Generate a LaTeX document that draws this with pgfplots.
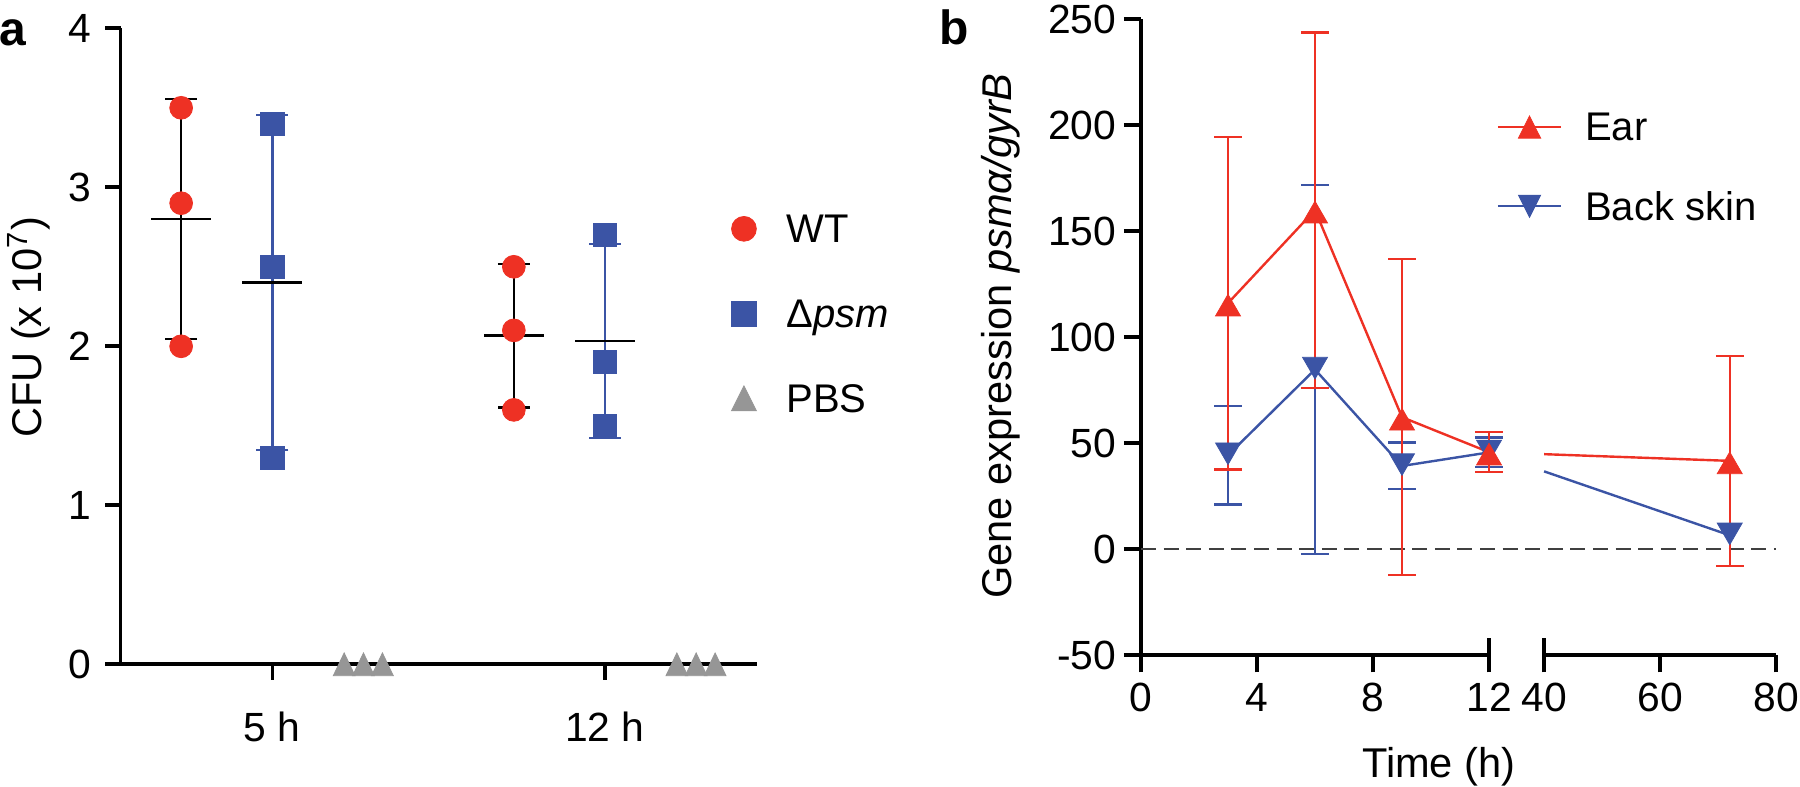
\documentclass[border=0pt]{standalone}
\usepackage{fontspec}
\setmainfont{Liberation Sans}
\usepackage{pgfplots}
\pgfplotsset{compat=1.18}
\usepackage{pgfplotstable}
\definecolor{ared}{RGB}{238,49,36}
\definecolor{ablue}{RGB}{59,84,165}
\definecolor{agray}{RGB}{150,150,150}
\definecolor{adash}{RGB}{64,64,64}

% ---------- panel a ----------
\pgfplotstableread{
x y
0.726 3.5
0.726 2.9
0.726 2.0
1.726 2.5
1.726 2.1
1.726 1.6
}\wtpts
\pgfplotstableread{
x y
1 3.4
1 2.5
1 1.3
2 2.7
2 1.9
2 1.5
}\dpsmpts
\pgfplotstableread{
x y
1.216 0
1.274 0
1.331 0
2.216 0
2.274 0
2.331 0
}\pbspts
\pgfplotstableread{
x mean sd
0.726 2.800 0.755
1.726 2.067 0.451
}\wtstat
\pgfplotstableread{
x mean sd
1 2.400 1.054
2 2.033 0.611
}\dpsmstat

% ---------- panel b ----------
\pgfplotstableread{
t mean sd
3 116.1 78.4
6 160.0 83.8
9 62.3 74.5
12 45.8 9.4
}\earA
\pgfplotstableread{
t mean sd
12 45.8 9.4
72 41.7 49.5
}\earB
\pgfplotstableread{
t mean sd
3 44.4 23.2
6 84.8 87.0
9 39.3 11.0
12 45.7 7.0
}\skinA
\pgfplotstableread{
t mean
12 45.7
72 6.6
}\skinB
% broken time axis: 0-12 h as is, 40-80 h compressed after a gap
\newcommand{\brkx}{\thisrow{t}<13 ? \thisrow{t} : 13.9+0.2*(\thisrow{t}-40)}

\pgfplotsset{
  every tick label/.append style={font=\fontsize{10.2}{12}\selectfont},
  every axis label/.append style={font=\fontsize{10.4}{12}\selectfont},
  every legend/.append style={font=\fontsize{10.2}{12}\selectfont},
}

\begin{document}
\begin{tikzpicture}
\path[use as bounding box] (0,0) rectangle (450pt,196.75pt);

\node[anchor=base west, inner sep=0pt, font=\fontsize{12}{14}\selectfont\bfseries] at (-0.3pt,185.25pt) {a};
\node[anchor=base west, inner sep=0pt, font=\fontsize{12}{14}\selectfont\bfseries] at (234.6pt,185.5pt) {b};

% ================= panel a =================
\begin{axis}[
  at={(30.175pt,30.675pt)}, anchor=south west,
  scale only axis, width=159pt, height=159pt,
  xmin=0.5443, xmax=2.456, ymin=0, ymax=4,
  axis lines*=left, clip=false,
  axis line style={line width=0.9pt, black},
  tick style={line width=0.9pt, black},
  tick align=outside, major tick length=3.9pt,
  xtick={1,2}, xticklabels={5 h,12 h},
  ytick={0,1,2,3,4}, yticklabels={0,1,2,3,4},
  xticklabel style={anchor=base, inner sep=0pt, yshift=-15.4pt},
  yticklabel style={anchor=east, inner sep=0pt, xshift=-3.4pt},
  ylabel={CFU (x 10\textsuperscript{7})},
  every axis y label/.style={at={(axis description cs:-0.1242,0.53)}, rotate=90, anchor=base},
  legend style={at={(axis cs:2.3802,2.2045)}, anchor=west, draw=none, fill=none,
    inner sep=0pt, outer sep=0pt, row sep=14.3pt, column sep=7.5pt,
    nodes={inner sep=0pt, text depth=0pt}},
  legend cell align=left,
  legend image code/.code={\draw[#1] plot coordinates {(0pt,0pt)};},
]
% SD error bars
\addplot[draw=none, forget plot,
  error bars/.cd, y dir=both, y explicit,
  error bar style={line width=0.6pt, draw=black},
  error mark options={rotate=90, line width=0.6pt, mark size=4pt, draw=black}]
  table[x=x, y=mean, y error=sd] {\wtstat};
\addplot[draw=none, forget plot,
  error bars/.cd, y dir=both, y explicit,
  error bar style={line width=0.6pt, draw=ablue},
  error mark options={rotate=90, line width=0.6pt, mark size=4pt, draw=ablue}]
  table[x=x, y=mean, y error=sd] {\dpsmstat};
% mean lines
\addplot[draw=none, forget plot,
  error bars/.cd, x dir=both, x fixed=0.0902, error mark=none,
  error bar style={line width=0.65pt, draw=black}]
  table[x=x, y=mean] {\wtstat};
\addplot[draw=none, forget plot,
  error bars/.cd, x dir=both, x fixed=0.0902, error mark=none,
  error bar style={line width=0.65pt, draw=black}]
  table[x=x, y=mean] {\dpsmstat};
% individual points
\addplot[only marks, mark=*, mark size=2.85pt, forget plot,
  mark options={fill=ared, draw=ared, line width=0.2pt}]
  table[x=x, y=y] {\wtpts};
\addplot[only marks, mark=square*, mark size=2.9pt, forget plot,
  mark options={fill=ablue, draw=ablue, line width=0.2pt}]
  table[x=x, y=y] {\dpsmpts};
\addplot[only marks, mark=triangle*, mark size=3.13pt, forget plot,
  mark options={fill=agray, draw=agray, line width=0.2pt, yshift=-0.95pt, yscale=1.21}]
  table[x=x, y=y] {\pbspts};

\addlegendimage{mark=*, mark size=3.1pt, mark options={fill=ared, draw=ared, line width=0.2pt}}
\addlegendentry{WT}
\addlegendimage{mark=square*, mark size=3.1pt, mark options={fill=ablue, draw=ablue, line width=0.2pt}}
\addlegendentry{Δ\textit{psm}}
\addlegendimage{mark=triangle*, mark size=3.6pt, mark options={fill=agray, draw=agray, line width=0.2pt, yshift=-1pt, yscale=1.15}}
\addlegendentry{PBS}
\end{axis}

% ================= panel b =================
\begin{axis}[
  at={(285.25pt,32.925pt)}, anchor=south west,
  scale only axis, width=158.775pt, height=159pt,
  xmin=0, xmax=21.9, ymin=-50, ymax=250,
  axis lines*=left, clip=false,
  y axis line style={line width=0.9pt, black},
  x axis line style={draw=none},
  tick style={line width=0.9pt, black},
  tick align=outside, major tick length=4.3pt,
  xtick={0,4,8,17.9,21.9}, xticklabels={0,4,8,60,80},
  extra x ticks={12,13.9}, extra x tick labels={12,40},
  extra x tick style={tick align=center, major tick length=8.6pt},
  ytick={-50,0,50,100,150,200,250},
  yticklabels={-50,0,50,100,150,200,250},
  xticklabel style={anchor=base, inner sep=0pt, yshift=-9.85pt},
  yticklabel style={anchor=east, inner sep=0pt, xshift=-1.7pt},
  xlabel={Time (h)},
  every axis x label/.style={at={(axis description cs:0.469,-0.1929)}, anchor=base},
  ylabel={Gene expression \textit{psmα/gyrB}},
  every axis y label/.style={at={(axis description cs:-0.2037,0.502)}, rotate=90, anchor=base},
  legend style={at={(axis cs:12.266,180.3)}, anchor=west, draw=none, fill=none,
    inner sep=0pt, outer sep=0pt, row sep=12.7pt, column sep=5.7pt,
    nodes={inner sep=0pt, text depth=0pt}},
  legend cell align=left,
  legend image code/.code={\draw[#1, mark repeat=2, mark phase=2] plot coordinates {(0pt,0pt) (7.9pt,0pt) (15.8pt,0pt)};},
]
% broken x axis line
\draw[line width=0.9pt, black] (axis cs:0,-50) -- (axis cs:12,-50);
\draw[line width=0.9pt, black] (axis cs:13.9,-50) -- (axis cs:21.9,-50);
% zero reference line
\addplot[adash, line width=0.6pt, dash pattern=on 3.75pt off 1.9pt, forget plot] coordinates {(0,0) (21.9,0)};

% Back skin
\addplot[ablue, line width=0.6pt, mark=triangle*, mark size=3.6pt, forget plot,
  mark options={solid, fill=ablue, draw=ablue, line width=0.2pt, yshift=1.25pt, rotate=180},
  error bars/.cd, y dir=both, y explicit,
  error bar style={line width=0.6pt, ablue},
  error mark options={rotate=90, line width=0.6pt, mark size=3.45pt, ablue}]
  table[x expr=\brkx, y=mean, y error=sd] {\skinA};
\addplot[ablue, line width=0.6pt, no markers, forget plot, shorten <=14.57pt]
  table[x expr=\brkx, y=mean] {\skinB};
\addplot[ablue, only marks, mark=triangle*, mark size=3.6pt, forget plot,
  skip coords between index={0}{1},
  mark options={solid, fill=ablue, draw=ablue, line width=0.2pt, yshift=1.25pt, rotate=180}]
  table[x expr=\brkx, y=mean] {\skinB};

% Ear
\addplot[ared, line width=0.6pt, mark=triangle*, mark size=3.6pt, forget plot,
  mark options={solid, fill=ared, draw=ared, line width=0.2pt, yshift=-1.4pt},
  error bars/.cd, y dir=both, y explicit,
  error bar style={line width=0.6pt, ared},
  error mark options={rotate=90, line width=0.6pt, mark size=3.45pt, ared}]
  table[x expr=\brkx, y=mean, y error=sd] {\earA};
\addplot[ared, line width=0.6pt, no markers, forget plot, shorten <=13.78pt]
  table[x expr=\brkx, y=mean] {\earB};
\addplot[ared, only marks, mark=triangle*, mark size=3.6pt, forget plot,
  skip coords between index={0}{1},
  mark options={solid, fill=ared, draw=ared, line width=0.2pt, yshift=-1.4pt},
  error bars/.cd, y dir=both, y explicit,
  error bar style={line width=0.6pt, ared},
  error mark options={rotate=90, line width=0.6pt, mark size=3.45pt, ared}]
  table[x expr=\brkx, y=mean, y error=sd] {\earB};

\addlegendimage{ared, line width=0.6pt, mark=triangle*, mark size=3.2pt, mark options={fill=ared, draw=ared, line width=0.2pt, yshift=-0.9pt, yscale=1.15}}
\addlegendentry{Ear}
\addlegendimage{ablue, line width=0.6pt, mark=triangle*, mark size=3.2pt, mark options={fill=ablue, draw=ablue, line width=0.2pt, yshift=0.9pt, rotate=180, yscale=1.15}}
\addlegendentry{Back skin}
\end{axis}
\end{tikzpicture}
\end{document}
